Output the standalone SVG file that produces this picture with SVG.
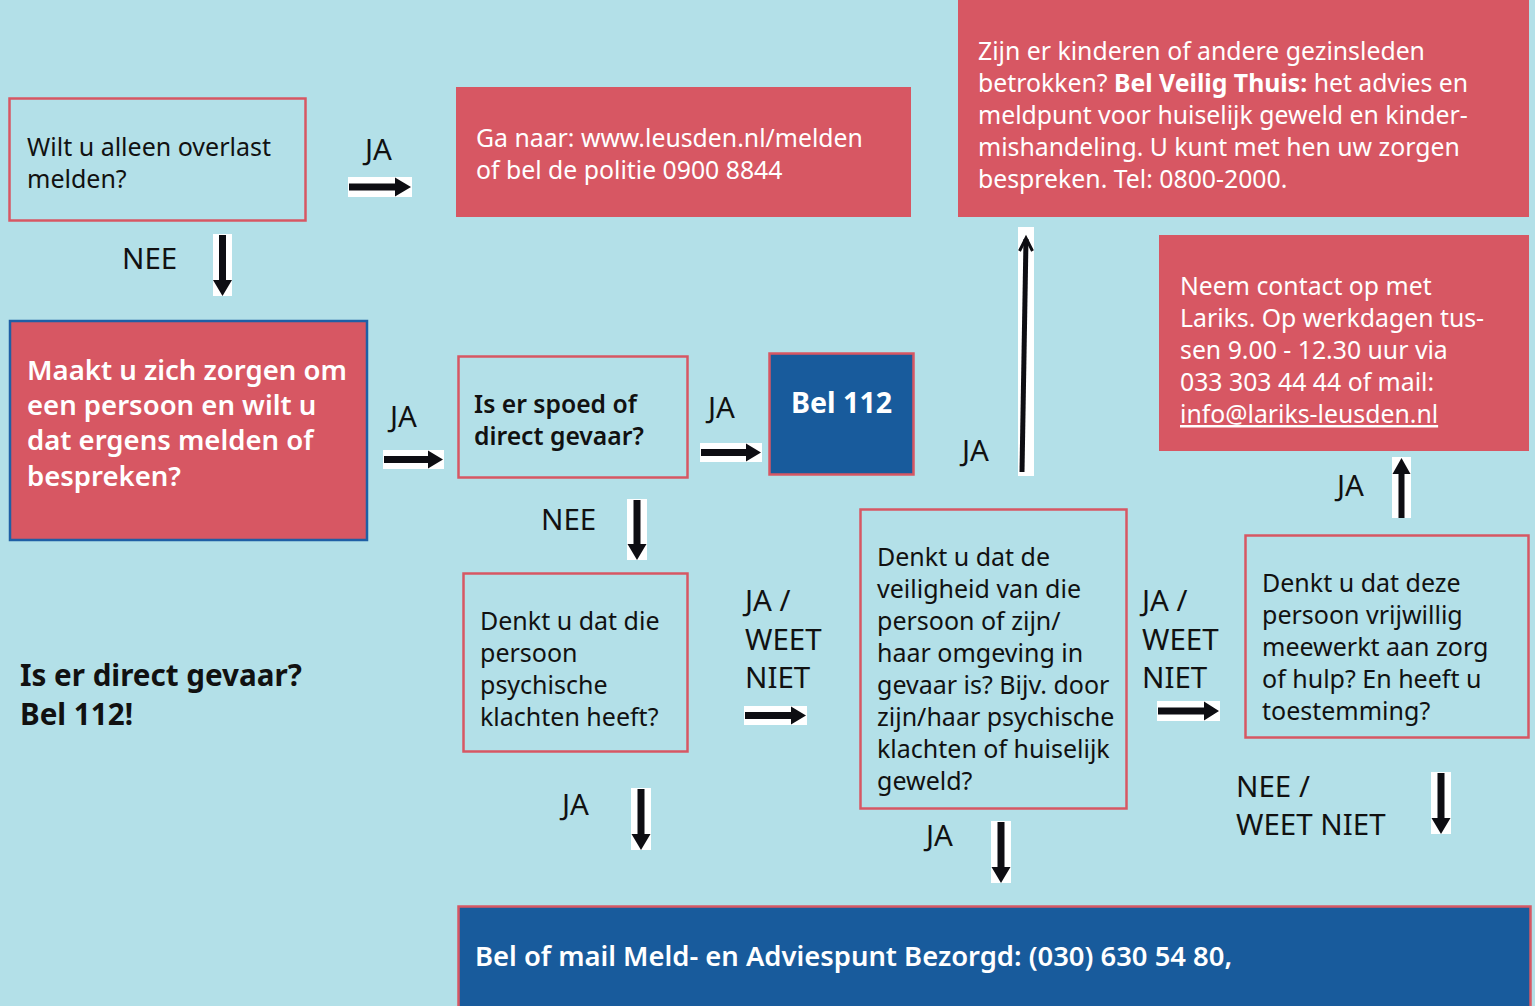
<svg xmlns="http://www.w3.org/2000/svg" width="1535" height="1006" viewBox="0 0 1535 1006">
<style>
  text { font-family: "Noto Sans", "Open Sans", "DejaVu Sans", sans-serif; }
  .lbl { font-size: 29.5px; fill: #111; }
  .dk { font-size: 25px; fill: #111; }
  .wt { font-size: 24.8px; fill: #fff; }
  .red { fill: #D75763; }
  .qbox { fill: #B3E0E8; stroke: #D75763; stroke-width: 2.5; }
  .blue { fill: #185B9C; stroke: #D75763; stroke-width: 2.5; }
  .bg { fill: #fff; }
  .ar { fill: #0D0D12; }
</style>
<rect width="1535" height="1006" fill="#B3E0E8"/>

<g id="n-overlast">
  <rect class="qbox" x="9.5" y="98.5" width="296" height="122"/>
  <text class="dk" x="27" y="156">Wilt u alleen overlast</text>
  <text class="dk" x="27" y="188">melden?</text>
</g>

<g id="n-leusden">
  <rect class="red" x="456" y="87" width="455" height="130"/>
  <text class="wt" x="476" y="147">Ga naar: www.leusden.nl/melden</text>
  <text class="wt" x="476" y="179">of bel de politie 0900 8844</text>
</g>

<g id="n-veiligthuis">
  <rect class="red" x="958" y="0" width="571" height="217"/>
  <text class="wt" x="978" y="60">Zijn er kinderen of andere gezinsleden</text>
  <text class="wt" x="978" y="92">betrokken? <tspan font-weight="bold">Bel Veilig Thuis:</tspan> het advies en</text>
  <text class="wt" x="978" y="124">meldpunt voor huiselijk geweld en kinder-</text>
  <text class="wt" x="978" y="156">mishandeling. U kunt met hen uw zorgen</text>
  <text class="wt" x="978" y="188">bespreken. Tel: 0800-2000.</text>
</g>

<g id="n-main">
  <rect x="10" y="321" width="357" height="219" fill="#D75763" stroke="#1F5FA5" stroke-width="2.5"/>
  <text x="27" y="380" font-size="27.5" font-weight="600" fill="#fff">Maakt u zich zorgen om</text>
  <text x="27" y="415" font-size="27.5" font-weight="600" fill="#fff">een persoon en wilt u</text>
  <text x="27" y="450" font-size="27.5" font-weight="600" fill="#fff">dat ergens melden of</text>
  <text x="27" y="486" font-size="27.5" font-weight="600" fill="#fff">bespreken?</text>
</g>

<g id="n-spoed">
  <rect class="qbox" x="458.5" y="356.5" width="229" height="121"/>
  <text x="474" y="413" font-size="24.7" font-weight="600" fill="#111">Is er spoed of</text>
  <text x="474" y="445" font-size="24.7" font-weight="600" fill="#111">direct gevaar?</text>
</g>

<g id="n-bel112">
  <rect class="blue" x="769.5" y="353.5" width="144" height="121"/>
  <text x="791" y="413" font-size="28.6" font-weight="bold" fill="#fff">Bel 112</text>
</g>

<g id="n-lariks">
  <rect class="red" x="1159" y="235" width="370" height="216"/>
  <text class="wt" x="1180" y="295">Neem contact op met</text>
  <text class="wt" x="1180" y="327">Lariks. Op werkdagen tus-</text>
  <text class="wt" x="1180" y="359">sen 9.00 - 12.30 uur via</text>
  <text class="wt" x="1180" y="391">033 303 44 44 of mail:</text>
  <text class="wt" x="1180" y="423" text-decoration="underline">info@lariks-leusden.nl</text>
</g>

<g id="n-psychisch">
  <rect class="qbox" x="463.5" y="573.5" width="224" height="178"/>
  <text class="dk" x="480" y="630">Denkt u dat die</text>
  <text class="dk" x="480" y="662">persoon</text>
  <text class="dk" x="480" y="694">psychische</text>
  <text class="dk" x="480" y="726">klachten heeft?</text>
</g>

<g id="n-veiligheid">
  <rect class="qbox" x="860.5" y="509.5" width="266" height="299"/>
  <text class="dk" x="877" y="566">Denkt u dat de</text>
  <text class="dk" x="877" y="598">veiligheid van die</text>
  <text class="dk" x="877" y="630">persoon of zijn/</text>
  <text class="dk" x="877" y="662">haar omgeving in</text>
  <text class="dk" x="877" y="694">gevaar is? Bijv. door</text>
  <text class="dk" x="877" y="726">zijn/haar psychische</text>
  <text class="dk" x="877" y="758">klachten of huiselijk</text>
  <text class="dk" x="877" y="790">geweld?</text>
</g>

<g id="n-vrijwillig">
  <rect class="qbox" x="1245.5" y="535.5" width="283" height="202"/>
  <text class="dk" x="1262" y="592">Denkt u dat deze</text>
  <text class="dk" x="1262" y="624">persoon vrijwillig</text>
  <text class="dk" x="1262" y="656">meewerkt aan zorg</text>
  <text class="dk" x="1262" y="688">of hulp? En heeft u</text>
  <text class="dk" x="1262" y="720">toestemming?</text>
</g>

<g id="n-note">
  <text x="20" y="686" font-size="29.6" font-weight="bold" fill="#111">Is er direct gevaar?</text>
  <text x="20" y="725" font-size="29.6" font-weight="bold" fill="#111">Bel 112!</text>
</g>

<g id="n-bezorgd">
  <rect class="blue" x="458.5" y="906.5" width="1072" height="102"/>
  <text x="475" y="966" font-size="27.4" font-weight="600" fill="#fff">Bel of mail Meld- en Adviespunt Bezorgd: (030) 630 54 80,</text>
</g>

<g id="connectors">
  <!-- overlast JA -> leusden -->
  <text class="lbl" x="365" y="160">JA</text>
  <rect class="bg" x="348" y="177" width="64" height="20"/>
  <path class="ar" d="M349,183.5 H395 V177.5 L411,187 L395,196.5 V190.5 H349 Z"/>

  <!-- overlast NEE -> main -->
  <text class="lbl" x="122" y="269">NEE</text>
  <rect class="bg" x="213" y="234" width="19" height="62"/>
  <path class="ar" d="M219,235 H226 V280 H232 L222.5,296 L213,280 H219 Z"/>

  <!-- main JA -> spoed -->
  <text class="lbl" x="390" y="427">JA</text>
  <rect class="bg" x="383" y="450" width="61" height="19"/>
  <path class="ar" d="M384,456 H428 V450.5 L443,459.5 L428,468.5 V463 H384 Z"/>

  <!-- spoed JA -> bel112 -->
  <text class="lbl" x="708" y="418">JA</text>
  <rect class="bg" x="700" y="443" width="62" height="19"/>
  <path class="ar" d="M701,449 H746 V443.5 L761,452.5 L746,461.5 V456 H701 Z"/>

  <!-- JA up to veilig thuis -->
  <text class="lbl" x="962" y="461">JA</text>
  <rect class="bg" x="1018" y="227" width="16" height="249"/>
  <path d="M1022,472 L1026,239" stroke="#0D0D12" stroke-width="5" fill="none"/>
  <path d="M1019.5,251 L1026,238 L1032.5,251" stroke="#0D0D12" stroke-width="3" fill="none"/>

  <!-- vrijwillig JA up -> lariks -->
  <text class="lbl" x="1337" y="496">JA</text>
  <rect class="bg" x="1392" y="457" width="19" height="61"/>
  <path class="ar" d="M1398.5,518 V474 H1392.5 L1401.5,458 L1410.5,474 H1404.5 V518 Z"/>

  <!-- spoed NEE down -> psychisch -->
  <text class="lbl" x="541" y="530">NEE</text>
  <rect class="bg" x="627" y="499" width="20" height="61"/>
  <path class="ar" d="M633.5,500 H640.5 V544 H646.5 L637,560 L627.5,544 H633.5 Z"/>

  <!-- psychisch JA/WEET NIET -> veiligheid -->
  <text class="lbl" x="745" y="611">JA /</text>
  <text class="lbl" x="745" y="650">WEET</text>
  <text class="lbl" x="745" y="688">NIET</text>
  <rect class="bg" x="744" y="706" width="63" height="19"/>
  <path class="ar" d="M745,712 H791 V706.5 L806,715.5 L791,724.5 V719 H745 Z"/>

  <!-- veiligheid JA/WEET NIET -> vrijwillig -->
  <text class="lbl" x="1142" y="611">JA /</text>
  <text class="lbl" x="1142" y="650">WEET</text>
  <text class="lbl" x="1142" y="688">NIET</text>
  <rect class="bg" x="1157" y="701" width="63" height="20"/>
  <path class="ar" d="M1158,707.5 H1204 V701.5 L1219,711 L1204,720.5 V714.5 H1158 Z"/>

  <!-- vrijwillig NEE/WEET NIET down -->
  <text class="lbl" x="1236" y="797">NEE /</text>
  <text class="lbl" x="1236" y="835">WEET NIET</text>
  <rect class="bg" x="1431" y="772" width="20" height="62"/>
  <path class="ar" d="M1437.5,773 H1444.5 V818 H1450.5 L1441,834 L1431.5,818 H1437.5 Z"/>

  <!-- psychisch JA down -->
  <text class="lbl" x="562" y="815">JA</text>
  <rect class="bg" x="631" y="788" width="20" height="62"/>
  <path class="ar" d="M637.5,789 H644.5 V834 H650.5 L641,850 L631.5,834 H637.5 Z"/>

  <!-- veiligheid JA down -->
  <text class="lbl" x="926" y="846">JA</text>
  <rect class="bg" x="991" y="821" width="20" height="62"/>
  <path class="ar" d="M997.5,822 H1004.5 V867 H1010.5 L1001,883 L991.5,867 H997.5 Z"/>
</g>
</svg>
